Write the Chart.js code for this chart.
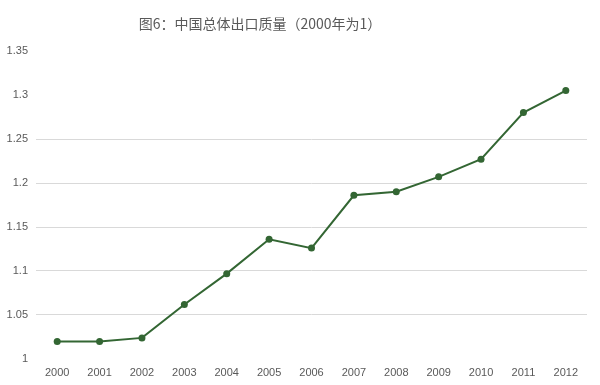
<!DOCTYPE html>
<html>
<head>
<meta charset="utf-8">
<script src="https://cdn.jsdelivr.net/npm/chart.js@4"></script>
<style>
  html, body { margin: 0; padding: 0; background: #fff; }
  #wrap { position: relative; width: 600px; height: 385px; }
  #title {
    position: absolute; left: 260px; top: 13px; transform: translateX(-50%);
    font: 14px "Noto Sans CJK SC", sans-serif; color: #595959; white-space: nowrap; line-height: 20px;
  }
</style>
</head>
<body>
<div id="wrap">
  <div id="title">图6：中国总体出口质量（2000年为1）</div>
  <canvas id="Chart1" width="600" height="385"></canvas>
</div>
<script>
  // 数据
  const years = ["2000", "2001", "2002", "2003", "2004", "2005", "2006",
                 "2007", "2008", "2009", "2010", "2011", "2012"];
  const quality = [1.020, 1.020, 1.024, 1.062, 1.097, 1.136, 1.126,
                   1.186, 1.190, 1.207, 1.227, 1.280, 1.305];
  const yTicks = [1, 1.05, 1.1, 1.15, 1.2, 1.25, 1.3, 1.35];
  const gridShown = [1.05, 1.1, 1.15, 1.2, 1.25];

  const ctx = document.getElementById("Chart1").getContext("2d");
  new Chart(ctx, {
    type: "line",
    data: {
      labels: years,
      datasets: [{
        data: quality,
        borderColor: "#336633",
        backgroundColor: "#336633",
        borderWidth: 2,
        pointRadius: 3.5,
        pointBorderWidth: 0,
        tension: 0,
      }],
    },
    options: {
      responsive: false,
      animation: false,
      layout: { padding: { top: 51, right: 13, left: 0, bottom: 0 } },
      plugins: {
        legend: { display: false },
        title: { display: false },
        tooltip: { enabled: false },
      },
      scales: {
        x: {
          offset: true,
          grid: { display: false, drawTicks: false },
          border: { display: false },
          ticks: {
            padding: 7,
            color: "#595959",
            font: { family: "'Liberation Sans', Arial, sans-serif", size: 11 },
            maxRotation: 0,
          },
          afterFit: (scale) => { scale.height = 26; },
        },
        y: {
          min: 1,
          max: 1.35,
          afterBuildTicks: (scale) => {
            scale.ticks = yTicks.map((v) => ({ value: v }));
          },
          grid: {
            drawTicks: false,
            color: (c) => gridShown.includes(Math.round(c.tick.value * 100) / 100) ? "#d9d9d9" : "rgba(0,0,0,0)",
          },
          border: { display: false },
          ticks: {
            padding: 8,
            color: "#595959",
            font: { family: "'Liberation Sans', Arial, sans-serif", size: 11 },
            callback: (v) => String(Math.round(v * 100) / 100),
          },
          afterFit: (scale) => { scale.width = 36; },
        },
      },
    },
  });
</script>
</body>
</html>
